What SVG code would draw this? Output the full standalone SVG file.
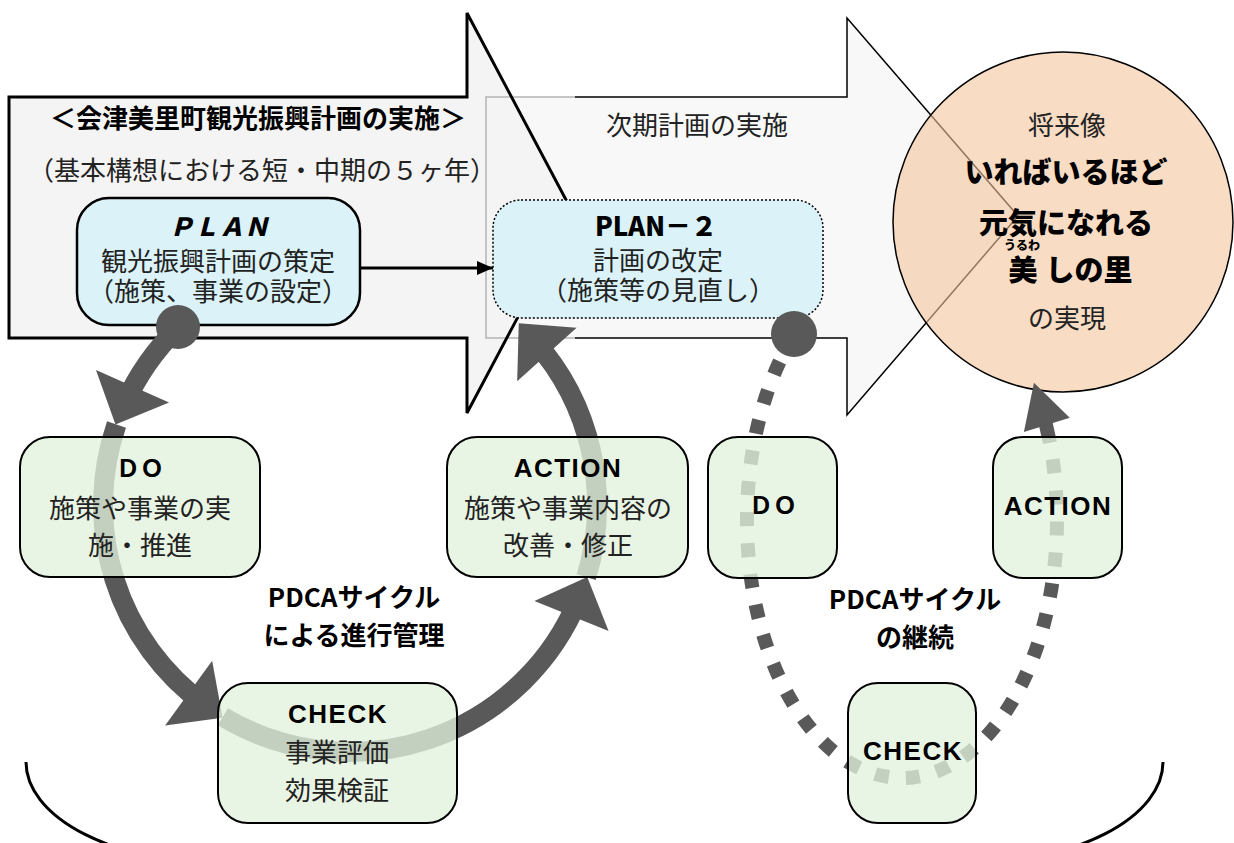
<svg xmlns="http://www.w3.org/2000/svg" width="1234" height="843" viewBox="0 0 1234 843">
<defs>
<style>
.t{font-family:"Noto Sans CJK JP","Noto Sans",sans-serif;font-size:26px;fill:#222;text-anchor:middle;}
.b{font-weight:700;fill:#000;}
.h{font-weight:900;fill:#000;}
.big{font-size:29px;}
.lat{font-family:"Liberation Sans","Noto Sans CJK JP",sans-serif;font-weight:700;font-size:26px;letter-spacing:1.5px;fill:#000;text-anchor:middle;}
.box{fill:#e3f2dc;fill-opacity:0.78;stroke:#000;stroke-width:2;}
.plan{fill:#daf2f8;stroke:#000;stroke-width:2.5;}
.ring{fill:none;stroke:#595959;stroke-width:20;}
.dash{fill:none;stroke:#595959;stroke-width:14;stroke-dasharray:14 17;}
.dot{fill:#595959;}
</style>
<marker id="ah" markerUnits="userSpaceOnUse" markerWidth="42" markerHeight="80" refX="20" refY="40" orient="auto" overflow="visible"><path d="M0,0 L42,40 L0,80 z" fill="#595959"/></marker>
<marker id="ah2" markerUnits="userSpaceOnUse" markerWidth="44" markerHeight="48" refX="23" refY="24" orient="auto" overflow="visible"><path d="M0,0 L44,24 L0,48 z" fill="#595959"/></marker>
<marker id="ahs" markerUnits="userSpaceOnUse" markerWidth="16" markerHeight="14" refX="16" refY="7" orient="auto" overflow="visible"><path d="M0,0 L16,7 L0,14 z" fill="#000"/></marker>
</defs>

<g id="background-arrows">
  <path d="M486,97 L847,97 L847,18 L1018,216 L847,415 L847,338 L486,338 Z" fill="#f8f8f8"/>
  <path d="M575,97 L847,97 L847,18 L1018,216 L847,415 L847,338 L575,338" fill="none" stroke="#000" stroke-width="1.5"/>
  <path d="M9,97 L467,97 L467,13 L573,213 L467,413 L467,338 L9,338 Z" fill="#f4f4f4"/>
  <path d="M575,97 L486,97 L486,338 L575,338" fill="none" stroke="#b4b4b4" stroke-width="1.5"/>
  <path d="M9,97 L467,97 L467,13 L573,213 L467,413 L467,338 L9,338 Z" fill="none" stroke="#000" stroke-width="3"/>
  <text class="t b" x="258" y="128">＜会津美里町観光振興計画の実施＞</text>
  <text class="t" x="262" y="180">（基本構想における短・中期の５ヶ年）</text>
  <text class="t" x="697" y="135">次期計画の実施</text>
</g>

<g id="vision">
  <circle cx="1063" cy="222" r="170" fill="#f5c59d" fill-opacity="0.6" stroke="#000" stroke-width="1.5"/>
  <text class="t" x="1067" y="135">将来像</text>
  <text class="t h big" x="1066" y="183">いればいるほど<tspan x="1066" y="234">元気になれる</tspan></text>
  <text class="t h" x="1022" y="250" style="font-size:12px">うるわ</text>
  <text class="t h big" x="1023" y="281">美<tspan x="1089" y="281">しの里</tspan></text>
  <text class="t" x="1067" y="328">の実現</text>
</g>

<g id="plan">
  <rect class="plan" x="77" y="198" width="283" height="127" rx="32"/>
  <text class="t" x="218" y="236"><tspan class="h" x="219" font-style="italic" style="font-size:25px">ＰＬＡＮ</tspan><tspan x="218" y="271">観光振興計画の策定</tspan><tspan x="218" y="301">（施策、事業の設定）</tspan></text>
</g>

<g id="plan2">
  <rect x="493" y="200" width="330" height="118" rx="28" fill="#daf2f8" stroke="#000" stroke-width="1.5" stroke-dasharray="2 2"/>
  <text class="t" x="656" y="236"><tspan class="h">PLAN－２</tspan><tspan x="658" y="270">計画の改定</tspan><tspan x="658" y="300">（施策等の見直し）</tspan></text>
</g>

<g id="connectors">
  <line x1="360" y1="268" x2="493" y2="268" stroke="#000" stroke-width="3" marker-end="url(#ahs)"/>
  <path class="ring" d="M178.4,327.3 A247,247 0 0 0 124.4,404.5" marker-end="url(#ah)"/>
  <path class="ring" d="M116.5,424.6 A247,247 0 0 0 204.8,704.8" marker-end="url(#ah)"/>
  <path class="ring" d="M222.8,716.7 A247,247 0 0 0 579.0,597.5" marker-end="url(#ah)"/>
  <path class="ring" d="M586.2,577.2 A247,247 0 0 0 533.5,339.7" marker-end="url(#ah)"/>
  <circle class="dot" cx="178" cy="327" r="22"/>
  <path class="dash" d="M794.3,334.4 A155,258 0 1 0 1049.4,440.3"/>
  <path d="M1049.4,440.3 A155,258 0 0 0 1040.1,402.9" fill="none" stroke="#595959" stroke-width="14" marker-end="url(#ah2)"/>
  <circle class="dot" cx="794" cy="334" r="23"/>
</g>

<g id="do">
  <rect class="box" x="20" y="437" width="240" height="140" rx="30"/>
  <text class="t" x="140" y="477"><tspan class="b" style="font-size:24px">ＤＯ</tspan><tspan x="140" y="518">施策や事業の実</tspan><tspan x="140" y="555">施・推進</tspan></text>
</g>

<g id="action">
  <rect class="box" x="447" y="437" width="241" height="140" rx="30"/>
  <text class="lat" x="568" y="477">ACTION</text>
  <text class="t" x="568" y="518">施策や事業内容の<tspan x="568" y="555">改善・修正</tspan></text>
</g>

<g id="check">
  <rect class="box" x="218" y="683" width="239" height="140" rx="30"/>
  <text class="lat" x="338" y="723">CHECK</text>
  <text class="t" x="337" y="762">事業評価<tspan x="337" y="800">効果検証</tspan></text>
</g>

<g id="do2">
  <rect class="box" x="708" y="437" width="129" height="141" rx="30"/>
  <text class="t b" x="773" y="514" style="font-size:24px">ＤＯ</text>
</g>

<g id="action2">
  <rect class="box" x="993" y="437" width="129" height="141" rx="30"/>
  <text class="lat" x="1058" y="515">ACTION</text>
</g>

<g id="check2">
  <rect class="box" x="848" y="683" width="128" height="140" rx="30"/>
  <text class="lat" x="913" y="760">CHECK</text>
</g>

<g id="labels">
  <text class="t b" x="354" y="607">PDCAサイクル<tspan x="354" y="645">による進行管理</tspan></text>
  <text class="t b" x="915" y="609">PDCAサイクル<tspan x="915" y="647">の継続</tspan></text>
</g>

<g id="bracket">
  <path d="M26,762 A200,102 0 0 0 226,864 L963,864 A200,102 0 0 0 1163,762" fill="none" stroke="#000" stroke-width="3"/>
</g>
</svg>
